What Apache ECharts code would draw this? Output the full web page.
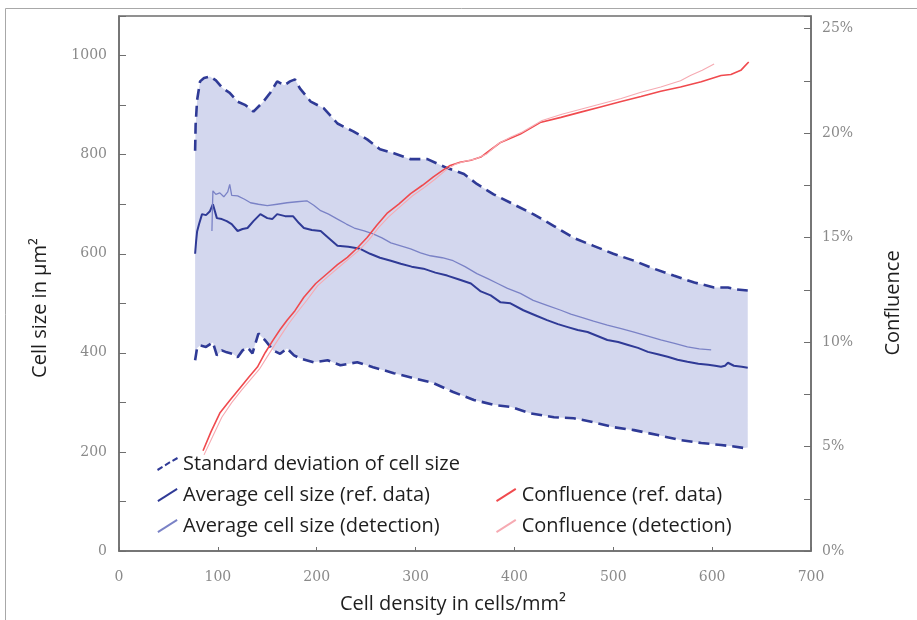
<!DOCTYPE html>
<html>
<head>
<meta charset="utf-8">
<script src="https://cdn.jsdelivr.net/npm/echarts@6/dist/echarts.min.js"></script>
<style>
html,body{margin:0;padding:0;background:#fff;}
#chart{width:917px;height:620px;}
</style>
</head>
<body>
<div id="chart"></div>
<script>
// ---- Data ----
var xTicks = [0, 100, 200, 300, 400, 500, 600, 700];

var stdUpperX = [77, 77.5, 79, 82, 86, 92, 98, 105, 112, 120, 128, 136, 146, 153, 160, 167, 173, 178, 183, 194, 207, 221, 237, 251, 264, 278, 295, 312, 332, 349, 362, 379, 399, 419, 440, 460, 480, 500, 521, 541, 561, 582, 602, 616, 625, 636];
var stdUpperY = [808, 860, 910, 948, 955, 958, 950, 934, 925, 907, 900, 887, 907, 925, 948, 940, 948, 952, 934, 907, 894, 863, 847, 831, 811, 803, 791, 791, 773, 761, 741, 720, 700, 680, 656, 632, 616, 600, 586, 570, 556, 542, 532, 532, 528, 526];

var stdLowerX = [77, 79, 82, 88, 95, 99, 104, 109, 115, 120, 125, 130, 135, 141, 148, 156, 163, 170, 177, 183, 197, 211, 224, 241, 257, 278, 298, 318, 338, 359, 379, 396, 416, 440, 460, 480, 500, 521, 545, 568, 589, 609, 622, 632, 636];
var stdLowerY = [385, 410, 415, 412, 421, 395, 405, 401, 398, 391, 405, 411, 399, 439, 425, 405, 398, 409, 395, 389, 381, 385, 375, 381, 371, 359, 349, 339, 321, 305, 295, 291, 278, 270, 268, 260, 250, 244, 234, 224, 218, 214, 211, 208, 209];

var avgRefX = [77, 78, 79, 81, 84, 88, 92, 95, 99, 104, 109, 114, 120, 125, 130, 136, 143, 150, 155, 160, 168, 176, 182, 187, 195, 204, 212, 221, 232, 244, 254, 264, 275, 285, 296, 308, 320, 332, 344, 356, 366, 376, 386, 396, 409, 421, 433, 444, 454, 464, 474, 484, 494, 505, 515, 525, 535, 545, 555, 565, 575, 586, 596, 603, 609, 613, 616, 622, 630, 636];
var avgRefY = [600, 625, 645, 660, 680, 678, 686, 700, 672, 670, 666, 660, 646, 650, 652, 666, 680, 672, 670, 680, 676, 676, 662, 652, 648, 646, 632, 616, 614, 610, 600, 592, 586, 580, 574, 570, 562, 556, 548, 540, 524, 516, 502, 500, 486, 476, 466, 458, 452, 446, 442, 434, 426, 422, 416, 410, 402, 397, 392, 386, 382, 378, 376, 374, 372, 374, 380, 374, 372, 370];

var avgDetX = [94, 94.5, 95, 98, 102, 106, 110, 112, 114, 120, 127, 133, 141, 150, 160, 170, 180, 190, 197, 204, 212, 221, 230, 238, 248, 257, 266, 275, 285, 295, 305, 315, 327, 338, 350, 362, 373, 383, 393, 406, 419, 433, 447, 457, 467, 480, 494, 508, 521, 535, 548, 562, 575, 587, 599];
var avgDetY = [646, 690, 727, 720, 723, 715, 725, 740, 718, 717, 710, 703, 700, 697, 700, 703, 705, 707, 698, 687, 680, 670, 660, 652, 646, 640, 632, 622, 616, 610, 602, 596, 592, 586, 574, 560, 550, 540, 530, 520, 506, 496, 486, 478, 472, 464, 456, 449, 442, 434, 426, 419, 412, 408, 406];

var confRefX = [85, 93, 102, 112, 123, 131, 140, 148, 156, 163, 170, 178, 187, 199, 211, 221, 231, 241, 251, 261, 271, 283, 295, 307, 318, 327, 335, 345, 356, 366, 376, 386, 396, 406, 426, 447, 467, 487, 507, 528, 548, 568, 589, 609, 619, 629, 633, 637];
var confRefY = [4.8, 5.7, 6.6, 7.2, 7.84, 8.3, 8.8, 9.5, 10.1, 10.6, 11.04, 11.5, 12.14, 12.8, 13.29, 13.7, 14.05, 14.5, 15.0, 15.6, 16.15, 16.6, 17.1, 17.5, 17.9, 18.2, 18.45, 18.6, 18.7, 18.85, 19.2, 19.55, 19.75, 19.95, 20.5, 20.75, 21.0, 21.25, 21.5, 21.75, 22.0, 22.2, 22.45, 22.75, 22.8, 23.0, 23.2, 23.4];

var confDetX = [86, 95, 104, 114, 124, 133, 142, 150, 158, 165, 172, 180, 190, 201, 213, 223, 233, 243, 253, 263, 273, 285, 297, 309, 320, 330, 340, 350, 360, 372, 384, 396, 408, 428, 448, 468, 488, 508, 528, 548, 568, 578, 590, 602];
var confDetY = [4.6, 5.5, 6.4, 7.1, 7.7, 8.2, 8.7, 9.3, 9.9, 10.4, 10.9, 11.4, 12.0, 12.7, 13.2, 13.6, 14.0, 14.4, 14.9, 15.5, 16.0, 16.5, 17.0, 17.4, 17.8, 18.2, 18.5, 18.65, 18.75, 19.0, 19.5, 19.8, 20.05, 20.6, 20.9, 21.15, 21.4, 21.65, 21.95, 22.2, 22.5, 22.75, 23.0, 23.3];

var legendNames = ['Standard deviation of cell size', 'Average cell size (ref. data)', 'Average cell size (detection)', 'Confluence (ref. data)', 'Confluence (detection)'];

function zip(xs, ys) { return xs.map(function (x, i) { return [x, ys[i]]; }); }

var C_DARK = '#2f3a96', C_LIGHT = '#7a82c6', C_FILL = '#d3d7ee', C_RED = '#f04a4e', C_PINK = '#f6aab2';
var tickFont = { fontFamily: 'DejaVu Serif', fontSize: 14, color: '#8a8a8a' };
var sansFont = 'Open Sans';
var textCol = '#1e1e1e';

var solidIcon = 'path://M0,12 L19,0 L20,1.8 L1,13.8 Z';
var dashIcon = 'path://M0,12 L5,8.9 L6,10.7 L1,13.8 Z M7.5,7.3 L12.5,4.2 L13.5,6 L8.5,9.1 Z M15,2.8 L20,0 L21,1.8 L16,4.6 Z';

var chart = echarts.init(document.getElementById('chart'));
chart.setOption({
  animation: false,
  backgroundColor: '#fff',
  grid: { left: 119, right: 106, top: 16, bottom: 69, show: true, borderColor: '#6e6e6e', borderWidth: 1.5, backgroundColor: 'transparent' },
  graphic: [
    { type: 'rect', shape: { x: 5.5, y: 8.5, width: 1000, height: 1000 }, style: { fill: 'none', stroke: '#a8a8a8', lineWidth: 1 }, silent: true, z: -10 },
    { type: 'text', x: 40, y: 308, rotation: Math.PI / 2, style: { text: 'Cell size in µm²', fontFamily: sansFont, fontSize: 20, fill: textCol, textAlign: 'center', textVerticalAlign: 'middle' } },
    { type: 'text', x: 893, y: 303, rotation: Math.PI / 2, style: { text: 'Confluence', fontFamily: sansFont, fontSize: 20, fill: textCol, textAlign: 'center', textVerticalAlign: 'middle' } }
  ],
  legend: [
    {
      left: 152, top: 449, orient: 'vertical', itemWidth: 21, itemHeight: 14, itemGap: 11,
      textStyle: { fontFamily: sansFont, fontSize: 20, color: textCol, lineHeight: 20 },
      data: [
        { name: legendNames[0], icon: dashIcon },
        { name: legendNames[1], icon: solidIcon },
        { name: legendNames[2], icon: solidIcon }
      ]
    },
    {
      left: 491, top: 480, orient: 'vertical', itemWidth: 21, itemHeight: 14, itemGap: 11,
      textStyle: { fontFamily: sansFont, fontSize: 20, color: textCol, lineHeight: 20 },
      data: [
        { name: legendNames[3], icon: solidIcon },
        { name: legendNames[4], icon: solidIcon }
      ]
    }
  ],
  xAxis: {
    type: 'value', min: 0, max: 700, interval: 100,
    name: 'Cell density in cells/mm²', nameLocation: 'middle', nameGap: 43,
    nameTextStyle: { fontFamily: sansFont, fontSize: 20, color: textCol, padding: [0, 24, 0, 0] },
    axisLine: { lineStyle: { color: '#6e6e6e', width: 1.5 } },
    axisTick: { inside: true, length: 4, lineStyle: { color: '#6e6e6e' } },
    axisLabel: Object.assign({ margin: 19 }, tickFont),
    splitLine: { show: false }
  },
  yAxis: [
    {
      type: 'value', min: 0, max: 1080, interval: 100, position: 'left',
      axisLine: { show: true, lineStyle: { color: '#6e6e6e', width: 1.5 } },
      axisTick: { inside: true, length: 7, lineStyle: { color: '#6e6e6e' } },
      axisLabel: Object.assign({ margin: 12, formatter: function (v) { return (v % 200 === 0 && v <= 1000) ? String(v) : ''; } }, tickFont),
      splitLine: { show: false }
    },
    {
      type: 'value', min: 0, max: 25.6, interval: 2.5, position: 'right',
      axisLine: { show: true, lineStyle: { color: '#6e6e6e', width: 1.5 } },
      axisTick: { inside: true, length: 7, lineStyle: { color: '#6e6e6e' } },
      axisLabel: Object.assign({ margin: 11, formatter: function (v) { return (Math.abs(v % 5) < 1e-6 && v <= 25) ? v + '%' : ''; } }, tickFont),
      splitLine: { show: false }
    }
  ],
  series: [
    {
      type: 'custom', name: 'band', coordinateSystem: 'cartesian2d', yAxisIndex: 0, silent: true, z: 1,
      data: [[0, 0]],
      renderItem: function (params, api) {
        var pts = [];
        for (var i = 0; i < stdUpperX.length; i++) pts.push(api.coord([stdUpperX[i], stdUpperY[i]]));
        for (var j = stdLowerX.length - 1; j >= 0; j--) pts.push(api.coord([stdLowerX[j], stdLowerY[j]]));
        return { type: 'polygon', shape: { points: pts }, style: { fill: C_FILL } };
      }
    },
    {
      type: 'line', name: legendNames[0], yAxisIndex: 0, data: zip(stdUpperX, stdUpperY), showSymbol: false, symbol: 'none', z: 3,
      color: C_DARK, lineStyle: { color: C_DARK, width: 2.6, type: [11, 6] }
    },
    {
      type: 'line', name: legendNames[0], yAxisIndex: 0, data: zip(stdLowerX, stdLowerY), showSymbol: false, symbol: 'none', z: 3,
      color: C_DARK, lineStyle: { color: C_DARK, width: 2.6, type: [11, 6] }
    },
    {
      type: 'line', name: legendNames[1], yAxisIndex: 0, data: zip(avgRefX, avgRefY), showSymbol: false, symbol: 'none', z: 4,
      color: C_DARK, lineStyle: { color: C_DARK, width: 2 }
    },
    {
      type: 'line', name: legendNames[2], yAxisIndex: 0, data: zip(avgDetX, avgDetY), showSymbol: false, symbol: 'none', z: 4,
      color: C_LIGHT, lineStyle: { color: C_LIGHT, width: 1.3 }
    },
    {
      type: 'line', name: legendNames[3], yAxisIndex: 1, data: zip(confRefX, confRefY), showSymbol: false, symbol: 'none', z: 5,
      color: C_RED, lineStyle: { color: C_RED, width: 1.6 }
    },
    {
      type: 'line', name: legendNames[4], yAxisIndex: 1, data: zip(confDetX, confDetY), showSymbol: false, symbol: 'none', z: 5,
      color: C_PINK, lineStyle: { color: C_PINK, width: 1.1 }
    }
  ]
});
</script>
</body>
</html>
